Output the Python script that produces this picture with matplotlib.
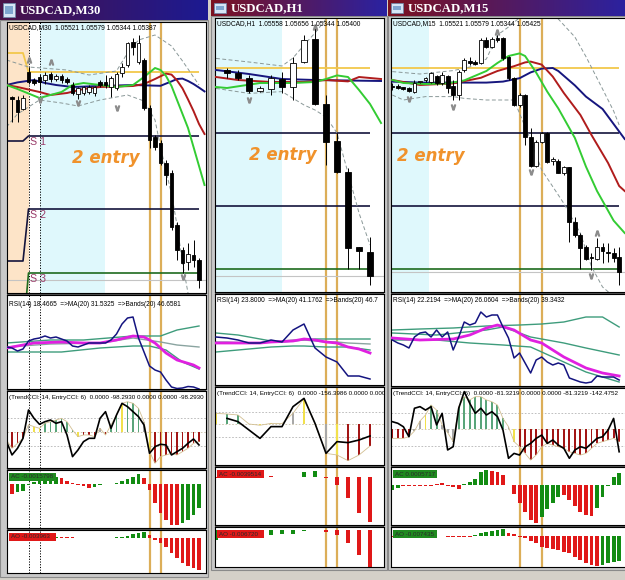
import numpy as np
import matplotlib
matplotlib.use("Agg")
import matplotlib.pyplot as plt
from matplotlib.patches import Rectangle
from matplotlib.colors import LinearSegmentedColormap

# ============================ DATA ============================
TITLES = ["USDCAD,M30", "USDCAD,H1", "USDCAD,M15"]
HEADERS = ["USDCAD,M30  1.05521 1.05579 1.05344 1.05387",
           "USDCAD,H1  1.05558 1.05656 1.05344 1.05400",
           "USDCAD,M15  1.05521 1.05579 1.05344 1.05425"]
RSI_LABELS = ["RSI(14) 18.4665  =>MA(20) 31.5325  =>Bands(20) 46.6581",
              "RSI(14) 23.8000  =>MA(20) 41.1762  =>Bands(20) 46.7",
              "RSI(14) 22.2194  =>MA(20) 26.0604  =>Bands(20) 39.3432"]
CCI_LABELS = ["(TrendCCI: 14, EntryCCI: 6)  0.0000 -98.2930 0.0000 0.0000 -98.2930",
              "(TrendCCI: 14, EntryCCI: 6)  0.0000 -156.3986 0.0000 0.0000",
              "(TrendCCI: 14, EntryCCI: 6)  0.0000 -81.3219 0.0000 0.0000 -81.3219 -142.4752"]
AC_LABELS = ["AC -0.0015798", "AC -0.0039514", "AC 0.0005717"]
AO_LABELS = ["AO -0.003963", "AO -0.006720", "AO -0.007435"]
ENTRY_TEXT = "2 entry"

# ---------------- window 1 : M30 (prices in pips above 1.0534) ----------------
W1_OPEN = [94, 92.5, 88, 106.5, 102.5, 104, 102.5, 105.5, 103, 104.5, 103, 100, 95.5, 96, 96.5, 96, 101.5, 101.5,
           99, 98.5, 106, 110, 121.5, 111.5, 112.5, 88.5, 74, 71, 61, 56, 30, 17.5, 11.5, 15, 12.5]
W1_HIGH = [94.5, 94.5, 95, 109, 103.5, 105.5, 106.5, 106.5, 105.5, 105.5, 104, 101.5, 99, 99.5, 100, 99.5, 102.5, 105,
           104.5, 106.5, 111, 121.5, 123.5, 125, 113.5, 90, 75, 72.5, 62.5, 57.5, 31.5, 19, 21, 22.5, 13.5]
W1_LOW = [81.5, 81.5, 87.5, 100.5, 100, 97.5, 100.5, 101.5, 102, 101, 100.5, 95, 93, 95, 95.5, 94.5, 99, 98.5,
          94, 97.5, 104, 109, 115, 110.5, 87.5, 68.5, 67.5, 60, 50, 27.5, 12.5, 6, 7.5, 9, -1.5]
W1_CLOSE = [93, 86.5, 93.5, 101.5, 101, 101.5, 105, 103, 104.5, 102.5, 101.5, 96, 98.5, 99, 99, 99, 100, 100,
            103.5, 105.5, 109, 121, 119, 121, 88.5, 72.5, 69, 61, 55, 29, 17.5, 11, 15.5, 12.5, 2.5]
W1_LIPS_X = [-1, 1, 5, 9, 11, 13, 16, 19, 22, 24, 26, 27, 28, 29, 30, 31, 32, 33, 34, 35]
W1_LIPS = [100, 98, 93.5, 96.5, 100, 101, 100, 99, 100, 104, 108.5, 107.5, 104.5, 99.5, 92.5, 85.5, 78.5, 69, 59.5, 50]
W1_TEETH_X = [-1, 1, 5, 7, 10, 13, 16, 22, 24, 26, 28, 29, 30, 31, 32, 33, 34, 35]
W1_TEETH = [100, 99, 96.5, 95, 96, 98, 99, 99.5, 100.5, 103, 105.7, 105.2, 102.3, 98.3, 92.8, 87, 80.5, 75.5]
W1_JAW_X = [-1, 1, 4, 6, 8, 11, 16, 22, 27, 29, 30, 31, 32, 33, 34, 35]
W1_JAW = [100, 101.3, 102.5, 101, 100, 99, 99.5, 100, 99.6, 101.8, 103, 103.2, 102, 100.5, 98.7, 96.8]
W1_BB_UP_X = [-1, 3, 10, 14, 19, 21, 23, 26, 29, 31, 34]
W1_BB_UP = [112.5, 109, 107.5, 105, 107, 116, 122.5, 125, 119.5, 112, 100]
W1_BB_LO_X = [-1, 1, 5, 9, 12, 16, 21, 24, 26, 27, 28, 29, 30, 31, 32]
W1_BB_LO = [79, 85.5, 92.5, 91, 89.5, 92.5, 95, 92, 82.5, 69, 57, 45.5, 30, 11, -4]
W1_LEVEL_X = list(range(-1, 35))
W1_DAY_START = 3
W1_PIVOT = (116, 106.5)
W1_S1 = (72, 74.5)
W1_S2 = (12, 38)
W1_S3 = (-25, 6)
W1_FRACT_UP_X, W1_FRACT_UP = [3, 7], [112.5, 111.5]
W1_FRACT_DN_X, W1_FRACT_DN = [5, 12, 19, 31], [92.5, 91, 88.5, 4]
W1_ENTRY_BARS = [25, 27]
W1_SEPARATORS = [3.1, 5.1]
W1_IND_X = list(range(-1, 35))
W1_RSI = [41, 40, 37, 39, 47, 49, 50, 52, 50, 51, 49, 47, 42, 41, 43, 45, 45, 45, 45, 48, 54, 64, 70, 71, 50, 36,
          22, 18, 16, 8, 1, -0.5, 0, 1.5, 1, -1]
W1_RSI_MA_X = [-1, 4, 9, 13, 16, 19, 22, 24, 26, 28, 30, 33, 34]
W1_RSI_MA = [40, 45, 46, 45, 45, 48, 52, 51, 45, 35, 28, 23, 20]
W1_RSI_UP_X, W1_RSI_UP = [-1, 7, 13, 22, 27, 30, 34], [45, 48, 48, 52, 52, 58, 62]
W1_RSI_MID_X, W1_RSI_MID = [-1, 7, 16, 22, 27, 30, 34], [41, 44, 45, 50, 46, 43, 41]
W1_RSI_LO_X, W1_RSI_LO = [-1, 9, 16, 22, 25, 28, 31, 34], [36, 36, 40, 42, 42, 38, 26, 19]
W1_TCCI = [-60, -120, -84, -48, 50, 36, 24, 60, 72, 84, 96, 72, 12, -36, -24, -24, -36, 24, -24, 48, 120, 204, 216,
           204, 168, 72, -144, -228, -180, -168, -156, -168, -144, -120, -84, -72]
W1_TCCI_COL = "rrrrkyyggggggyrrrkrggygggkyrrrrrrrrr"
W1_ECCI = [-72, -168, -120, -48, 156, 96, 53, 72, 84, 60, 72, -24, -180, -132, -72, -48, -48, 96, 144, 24, 120, 204,
           180, 144, 108, 48, -156, -108, -91, -96, -168, -144, -120, -84, -53, -96]
W1_AC = [-9, -10, -8, -7, -1, 2, 3, 4, 5, 7, 6, 3, 1, -1, -2, -4, -3, -1, 0.5, 0.5, 1, 3, 5, 7, 10, 6, -6, -19, -29,
         -36, -41, -41, -39, -36, -31, -24]
W1_AC_COL = "rr" + "gggggggg" + "rrrrrr" + "ggggggggg" + "rrrrrrr" + "gggg"
W1_AO = [-1, -0.5, 0.3, 0.6, 0.9, 1.2, 1.4, 1.5, 1.6, 1.7, 1.6, 1.4, 1, 0.7, 0.5, 0.4, 0.3, 0.4, 0.5, 0.6, 0.9, 1.5,
         2.5, 4, 5.5, 6.5, 3, -2, -5, -9, -15, -20, -25, -28, -30, -32]
W1_AO_COL = "r" + "ggggggggg" + "rrrrrrr" + "ggggggggg" + "rrrrrrrrrr"

# ---------------- window 2 : H1 ----------------
W2_OPEN = [107.5, 106, 103.5, 97, 98, 103, 99, 111.5, 123, 90.5, 72, 56.5, 19, 16.5]
W2_HIGH = [108.5, 107.5, 105, 99.5, 105, 106.5, 114, 125, 128.5, 95, 76, 58.5, 19, 24]
W2_LOW = [103.5, 102.5, 96, 96.5, 95, 96, 92.5, 111, 90, 60, 56, 8, 8, 0]
W2_CLOSE = [106, 103.5, 97, 98.5, 103.5, 99, 111, 122.5, 90.5, 71.5, 56.5, 18.5, 17, 4.5]
W2_LIPS_X = [-1, 0, 3, 6, 8, 9, 10, 11, 12, 13, 14]
W2_LIPS = [99, 98.5, 101, 101, 101.5, 103, 104.8, 104, 97.5, 90.5, 81]
W2_TEETH_X = [-1, 1, 4, 7, 9, 11, 12, 13, 14]
W2_TEETH = [104, 102.5, 101.5, 101.5, 102.5, 101.8, 104, 103.5, 103]
W2_JAW_X = [-1, 2, 5, 8, 14]
W2_JAW = [107.5, 105.5, 103, 102.5, 102]
W2_BB_UP_X = [-1, 2, 5, 6, 7, 8, 9, 10, 11, 12, 13]
W2_BB_UP = [113.3, 111.5, 109.5, 113.5, 120, 126, 133, 140, 150, 155, 158]
W2_BB_LO_X = [-1, 2, 5, 7, 8, 9, 10, 11, 12, 13]
W2_BB_LO = [98.3, 95.8, 96.7, 90, 87.5, 84, 76, 56, 36, 20]
W2_LEVEL_X = list(range(-1, 14))
W2_PIVOT, W2_S1, W2_S2, W2_S3 = 108.5, 76, 39.5, 8
W2_FRACT_UP_X, W2_FRACT_UP = [8], [129]
W2_FRACT_DN_X, W2_FRACT_DN = [2], [92.5]
W2_ENTRY_BARS = [9, 10]
W2_IND_X = list(range(-1, 14))
W2_RSI = [48, 47, 45, 42, 42, 45, 43, 55, 61, 37, 28, 23, 9, 9, 6]
W2_RSI_MA = [42, 42, 42, 42, 42, 43, 43.5, 44, 46, 45, 43, 42, 38, 36, 32]
W2_RSI_UP = [52, 51, 50, 48, 46, 44, 43, 44, 45, 46, 46, 46, 46, 46, 46]
W2_RSI_MID = [43, 43, 42.5, 42, 42, 43, 44, 45, 45, 44, 43, 43, 42, 41.5, 41]
W2_RSI_LO = [33, 34, 35, 36, 37, 38, 38.5, 39, 39, 38.5, 38, 38, 38, 36.5, 35]
W2_TCCI = [85, 80, 72, 0, -10, 5, 3, 85, 205, 0, -235, -248, -293, -248, -176]
W2_TCCI_COL = "yggkyykkykkyrrr"
W2_ECCI_X = list(range(0, 14))
W2_ECCI = [45, 19, -48, -115, -21, -21, 139, 205, 5, -235, -141, -149, -128, -96]
W2_AC = [-1, -0.5, 0.5, 1, 1.5, 1, 0.5, 0.3, 5, 6, -0.7, -8, -21, -36, -45]
W2_AC_COL = "rggggrrrggrrrrr"
W2_AO = [-10, -7, -5, -4.8, -4.6, -4.5, -4.3, -4, -1, 0.5, -1.5, -5, -13, -25, -37]
W2_AO_COL = "ggggggggggrrrrr"

# ---------------- window 3 : M15 ----------------
W3_OPEN = [99.5, 99.5, 98.3, 98.3, 96.7, 101.5, 102.5, 101.7, 104.5, 100.8, 104.5, 99.5, 95, 107.5, 112.2, 111.7,
           110.8, 122.5, 118.8, 123.3, 123.3, 113.8, 103.3, 90, 95, 74.2, 59.5, 71.7, 76.2, 62.2, 62.2, 55.8, 59.2,
           31.7, 25, 19.2, 14.2, 12.8, 19.2, 16.2, 16.2, 13.8]
W3_HIGH = [101, 100.5, 99, 99, 102.5, 102, 104, 106.7, 105, 106.7, 105, 102.5, 107.5, 113.3, 114.2, 112.5, 123.3,
           124.2, 124.2, 125, 124.2, 114.5, 104.2, 95.8, 95.5, 78.3, 72.5, 76.7, 76.7, 64.2, 62.8, 59.5, 59.2, 34.2,
           25.8, 20, 15.8, 23.3, 20.8, 20.8, 18.3, 18.8]
W3_LOW = [97.5, 98, 97.5, 96.5, 96.2, 101, 101.7, 100.8, 100, 100, 96, 92.5, 92.5, 106.7, 110, 110, 110.3, 118.3,
          118.3, 121.7, 112.5, 102.5, 89.5, 89.2, 70, 59.2, 59.2, 70.8, 60.8, 60, 55.8, 55, 21.7, 24.2, 7.8, 12.5,
          7.5, 12.5, 10.8, 11.7, 11.7, 0]
W3_CLOSE = [99, 98.5, 98.2, 97, 101, 101.8, 103.3, 105.8, 100.8, 105, 98.3, 95, 106.7, 112.5, 110.8, 110.3, 122.5,
            119.2, 122.8, 122.5, 113.3, 103.3, 90, 95, 74.2, 59.5, 71.7, 76.2, 61.7, 62.5, 56.2, 59.2, 31.7, 25,
            18.3, 12.8, 13.3, 19.2, 17.2, 15.8, 13.3, 6.7]
W3_LIPS_X = [0, 2, 6, 10, 13, 17, 19, 21, 23, 24, 26, 28, 30, 33, 35, 37, 40, 42]
W3_LIPS = [102.5, 101, 100.5, 100.8, 102.3, 107, 111, 114.5, 115.8, 114.5, 106.2, 96.7, 88.3, 73.5, 59.2, 47, 32.2, 26]
W3_TEETH_X = [0, 5, 11, 16, 19, 22, 24, 25, 27, 29, 31, 34, 36, 39, 41, 42]
W3_TEETH = [102.5, 100, 100.8, 103.6, 107, 109.4, 111.3, 111.7, 110.2, 104.2, 96, 85, 75, 61, 49.5, 47]
W3_JAW_X = [0, 5, 11, 17, 20, 23, 25, 27, 29, 30, 33, 35, 38, 40, 42]
W3_JAW = [101.7, 101.2, 101.2, 101.2, 101.7, 103.4, 106.3, 108.2, 108.5, 107, 99.8, 94.2, 88, 80.5, 73]
W3_BB_UP_X = [0, 5, 11, 14, 17, 19, 21, 24, 27, 30, 33, 35, 38, 40, 41]
W3_BB_UP = [106.7, 105.5, 107.2, 109, 113, 125, 129, 136, 139, 133, 124, 114.2, 98, 87, 80]
W3_BB_LO_X = [0, 2, 6, 11, 13, 17, 19, 22, 23, 25, 27, 29, 31, 34, 36, 38, 41]
W3_BB_LO = [95, 92.5, 94.2, 94.2, 93.3, 92.5, 92.5, 92.5, 85.8, 72.5, 57.5, 49.2, 40.8, 25.8, 9.2, -1, -8]
W3_LEVEL_X = list(range(0, 42))
W3_PIVOT, W3_S1, W3_S2, W3_S3 = 108.3, 76.2, 39.5, 7.8
W3_FRACT_UP_X, W3_FRACT_UP = [19, 37], [126.7, 25.8]
W3_FRACT_DN_X, W3_FRACT_DN = [3, 11, 25, 36], [92.8, 89.2, 56.7, 4.5]
W3_ENTRY_BARS = [23, 27]
W3_IND_X = list(range(0, 42))
W3_RSI = [45, 42, 40, 37, 48, 52, 53, 48, 55, 48, 53, 35, 48, 63, 60, 62, 73, 68, 70, 70, 58, 47, 27, 32, 22, 12,
          25, 28, 23, 20, 22, 20, 7, 5, 3, 2, 3, 9, 8, 8, 8, 5]
W3_RSI_MA_X = [0, 5, 11, 14, 17, 19, 22, 25, 27, 31, 35, 38, 41]
W3_RSI_MA = [47, 45, 46, 50, 57, 60, 55, 45, 42, 28, 17, 12, 9]
W3_RSI_UP_X, W3_RSI_UP = [0, 5, 11, 17, 23, 27, 31, 35, 38, 41], [55, 56, 57, 59, 60, 61, 63, 68, 68, 58]
W3_RSI_MID_X, W3_RSI_MID = [0, 8, 17, 20, 25, 31, 35, 41], [52, 50, 55, 58, 48, 42, 37, 30]
W3_RSI_LO_X, W3_RSI_LO = [0, 8, 14, 20, 25, 31, 35, 41], [45, 45, 42, 40, 38, 23, 13, 3]
W3_TCCI = [-55, -55, -55, -45, -10, 51, 88, 149, 118, 27, -20, -75, 139, 200, 180, 200, 200, 180, 169, 149, 67, 16,
           -75, -106, -147, -188, -157, -106, -86, -96, -106, -116, -137, -147, -157, -147, -116, -86, -75, -65,
           -55, -75]
W3_TCCI_COL = "rrrr" + "kk" + "y" + "gg" + "kkk" + "ggggggggg" + "k" + "y" + "r" * 19
W3_ECCI = [47, 37, 16, -45, 129, 139, 118, 139, 27, 98, -126, -106, 129, 231, 159, 98, 129, 88, 108, 78, -4, -177,
           -147, -157, -106, -86, -55, -35, -86, -65, -96, -116, -177, -126, -106, -116, -86, -55, -45, -4, 67, -137]
W3_AC = [-5, -3, -0.5, -0.5, -0.5, -0.5, -0.5, -0.5, 1, 2, -1, -2, -4, 1, 3, 6, 13, 15, 14, 13, 10, 0, -9, -18, -27,
         -35, -38, -32, -24, -18, -12, -10, -15, -21, -27, -30, -31, -23, -12, -1, 8, 12]
W3_AC_COL = "gg" + "r" * 11 + "ggggg" + "r" * 9 + "gggg" + "rrrrrr" + "ggggg"
W3_AO = [-1, -0.8, -0.6, -0.5, -0.4, -0.4, -0.3, -0.3, -0.3, -0.4, -0.5, -0.5, -0.6, -0.6, -0.5, 1, 3, 4, 5, 6, 7,
         3, 2, -1, -2, -5, -7, -11, -12, -13, -14, -16, -17, -21, -24, -27, -29, -30, -29, -27, -26, -25]
W3_AO_COL = "r" + "g" * 8 + "r" * 6 + "g" * 6 + "r" * 17 + "gggg"

# ============================ STYLE ============================
C_LIPS, C_TEETH, C_JAW = "#33cc33", "#b01c1c", "#16167e"
C_BAND = "#8a9898"
C_PIVOT = "#f2c84b"
C_ENTRY_V = "#dcae58"
C_LEVEL = "#14143c"
C_S3 = "#1e6b1e"
C_ORANGE = "#f0922b"
C_CYAN = "#dff8fc"
C_PEACH = "#fde4c8"
C_RSI, C_RSI_MA, C_RSI_BAND, C_RSI_MID = "#141480", "#e020e0", "#3e9c7c", "#8aa4a0"
CCI_COLORS = {"r": "#a31616", "g": "#5aa57a", "y": "#f2e14c", "k": "#a8a8a8"}
ACAO_COLORS = {"g": "#128c12", "r": "#e01818"}

W, H = 625, 580
fig = plt.figure(figsize=(W / 100, H / 100), dpi=100)
fig.patch.set_facecolor("#d4d0c8")

bg = fig.add_axes([0, 0, 1, 1])
bg.axis("off")


def px_axes(x0, y0, x1, y1):
    ax = fig.add_axes([x0 / W, 1 - y1 / H, (x1 - x0) / W, (y1 - y0) / H])
    ax.set_facecolor("white")
    ax.set_xticks([])
    ax.set_yticks([])
    for sp in ax.spines.values():
        sp.set_color("black")
        sp.set_linewidth(0.8)
    return ax


def put_text(ax, box, px, py, s, **kw):
    x0, y0, x1, y1 = box
    return ax.text((px - x0) / (x1 - x0), 1 - (py - y0) / (y1 - y0), s,
                   transform=ax.transAxes, clip_on=True, **kw)


def put_box(ax, box, px, py, w, h, color):
    x0, y0, x1, y1 = box
    ax.add_patch(Rectangle(((px - x0) / (x1 - x0), 1 - (py + h - y0) / (y1 - y0)),
                           w / (x1 - x0), h / (y1 - y0), transform=ax.transAxes,
                           facecolor=color, edgecolor="none", zorder=10, clip_on=True))


def title_bar(x0, x1, h, text, c0, c1):
    cmap = LinearSegmentedColormap.from_list("tb", [c0, c1])
    bg.imshow(np.linspace(0, 1, 256)[None, :], extent=(x0, x1, h, 0), cmap=cmap,
              aspect="auto", zorder=1, interpolation="bilinear")
    bg.add_patch(Rectangle((x0 + 3, 3), 12, h - 6, facecolor="#d6e6f6", edgecolor="#6a88aa", lw=0.5, zorder=2))
    bg.add_patch(Rectangle((x0 + 5, 6), 8, h - 12, facecolor="#7fa6d0", edgecolor="none", zorder=2))
    bg.text(x0 + 20, h / 2 + 0.5, text, color="white", fontsize=9.2, fontweight="bold",
            family="Liberation Serif", va="center", ha="left", zorder=3)


def candles(ax, o, h, l, c, width):
    k = np.arange(len(o))
    o = np.asarray(o, float)
    c = np.asarray(c, float)
    ax.vlines(k, l, h, color="black", lw=0.7, zorder=4)
    bot = np.minimum(o, c)
    ht = np.maximum(np.abs(c - o), 0.6)
    col = ["white" if cc > oo else "black" for oo, cc in zip(o, c)]
    ax.bar(k, ht, bottom=bot, width=width, color=col, edgecolor="black", lw=0.6, zorder=5)


def draw_window(g, d, idx):
    wx0, wx1 = g["win"]
    th = g["title_h"]
    x0, x1 = g["ax_x"]
    bg.add_patch(Rectangle((wx0, th), wx1 - wx0, g["bottom"] - th, facecolor="#c9c9c9",
                           edgecolor="#8a8a8a", lw=0.8, zorder=0))
    bg.add_patch(Rectangle((x0, g["main"][0]), x1 - x0, g["ao"][1] - g["main"][0],
                           facecolor="#555555", edgecolor="none", zorder=0.5))
    title_bar(wx0, wx1, th, TITLES[idx], g["c0"], g["c1"])

    axes = {}
    for name in ["main", "rsi", "cci", "ac", "ao"]:
        ya, yb = g[name]
        ax = px_axes(x0, ya, x1, yb)
        ax.set_xlim(*g["xlim"])
        ax.set_ylim(*g["ylim_" + name])
        axes[name] = (ax, (x0, ya, x1, yb))
        for eb in d["entry"]:
            ax.axvline(eb, color=C_ENTRY_V, lw=1.6, zorder=1.5)
        for sx in d.get("separators", []):
            ax.axvline(sx, color="black", lw=0.7, ls=(0, (1.2, 1.6)), zorder=1.6)

    # ---------- main chart ----------
    ax, box = axes["main"]
    for a, b, colr in d["shades"]:
        ax.axvspan(a, b, color=colr, lw=0, zorder=0)
    lx = np.asarray(d["level_x"])
    for vals, colr, lw in d["levels"]:
        ax.plot(lx, vals, color=colr, lw=lw, zorder=2, solid_capstyle="butt")
    ax.axhline(d["c"][-1], color="#c4c4c4", lw=0.8, zorder=1.8)
    for bx, by in d["bands"]:
        ax.plot(bx, by, color=C_BAND, lw=0.7, ls=(0, (4, 2.5)), zorder=2.2)
    for bx, by, colr in d["mas"]:
        ax.plot(bx, by, color=colr, lw=1.4, zorder=3)
    candles(ax, d["o"], d["h"], d["l"], d["c"], d["body_w"])
    ax.plot(d["fu"][0], d["fu"][1], ls="none", marker=r"$\wedge$", ms=3.6, color="#8c8c8c", zorder=6)
    ax.plot(d["fd"][0], d["fd"][1], ls="none", marker=r"$\vee$", ms=3.6, color="#8c8c8c", zorder=6)
    ax.text(d["entry_xy"][0], d["entry_xy"][1], ENTRY_TEXT, color=C_ORANGE, fontsize=12,
            fontweight="bold", fontstyle="italic", family="DejaVu Sans", ha="center", va="center", zorder=7)
    for s, yv in d.get("s_labels", []):
        ax.text(d["s_label_x"], yv, s, color="#9a3c6a", fontsize=7.7, family="Liberation Sans",
                ha="left", va="top", zorder=7)
    put_text(ax, box, x0 + 2, box[1] + 6, HEADERS[idx], fontsize=4.8, family="Liberation Sans",
             va="center", ha="left", zorder=8)

    # ---------- RSI ----------
    ax, box = axes["rsi"]
    for bx, by, colr, lw in d["rsi_bands"]:
        ax.plot(bx, by, color=colr, lw=lw, zorder=2)
    ax.plot(d["rsi_ma"][0], d["rsi_ma"][1], color=C_RSI_MA, lw=2.0, zorder=3)
    ax.plot(d["ind_x"], d["rsi"], color=C_RSI, lw=1.1, zorder=4)
    put_text(ax, box, x0 + 2, box[1] + d["rsi_lab_dy"], RSI_LABELS[idx], fontsize=4.7,
             family="Liberation Sans", va="center", ha="left", zorder=8)

    # ---------- Trend CCI ----------
    ax, box = axes["cci"]
    for lv in (100, -100):
        ax.axhline(lv, color="#b4b4b4", lw=0.6, ls=(0, (2, 2)), zorder=1)
    ax.axhline(0, color="#c8c0a8", lw=0.6, ls=(0, (2, 2)), zorder=1)
    ax.bar(d["ind_x"], d["tcci"], width=d["cci_w"], color=[CCI_COLORS[ch] for ch in d["tcci_col"]], zorder=2)
    ax.plot(d["ind_x"], d["tcci"], color="#d2bf92", lw=0.6, zorder=2.5)
    ax.plot(d["ecci_x"], d["ecci"], color="black", lw=1.2, zorder=3)
    put_text(ax, box, x0 + 2, box[1] + d["cci_lab_dy"], CCI_LABELS[idx], fontsize=4.5,
             family="Liberation Sans", va="center", ha="left", zorder=8)

    # ---------- AC / AO ----------
    for name, vals, cols, lab in (("ac", d["ac"], d["ac_col"], AC_LABELS[idx]),
                                  ("ao", d["ao"], d["ao_col"], AO_LABELS[idx])):
        ax, box = axes[name]
        ax.bar(d["ind_x"], vals, width=d["acao_w"], color=[ACAO_COLORS[ch] for ch in cols], zorder=2)
        put_box(ax, box, x0 + 2, box[1] + 3, d["lab_w"], 8, d["box_" + name])
        put_text(ax, box, x0 + 4, box[1] + 7, lab, fontsize=4.5, family="Liberation Sans",
                 color="#2a2a2a", va="center", ha="left", zorder=11)


def step_levels(xs, pair, start):
    return [pair[0] if x < start else pair[1] for x in xs]


GEOM = [
    dict(win=(0, 208), title_h=20, ax_x=(7, 206), main=(22, 293), rsi=(295, 389), cci=(391, 468),
         ac=(470, 528), ao=(530, 573), bottom=577, xlim=(-0.91, 35.27),
         ylim_main=(-4, 131.5), ylim_rsi=(-1, 93), ylim_cci=(-262, 293), ylim_ac=(-43.7, 14.3),
         ylim_ao=(-34.7, 8.3), c0="#4a1248", c1="#1c1a92"),
    dict(win=(211, 387), title_h=16, ax_x=(215, 384), main=(18, 292), rsi=(294, 385), cci=(387, 465),
         ac=(467, 525), ao=(527, 567), bottom=570, xlim=(-1.09, 14.27),
         ylim_main=(-3.5, 133.5), ylim_rsi=(0, 91), ylim_cci=(-328, 296), ylim_ac=(-47.7, 10.3),
         ylim_ao=(-37, 3), c0="#7c1220", c1="#2a22a2"),
    dict(win=(388, 630), title_h=16, ax_x=(391, 628), main=(18, 292), rsi=(294, 386), cci=(388, 465),
         ac=(467, 525), ao=(527, 567), bottom=570, xlim=(-0.24, 42.6),
         ylim_main=(-3.5, 133.5), ylim_rsi=(-1, 91), ylim_cci=(-218, 253), ylim_ac=(-40, 18),
         ylim_ao=(-31, 9), c0="#7c1220", c1="#2a22a2"),
]

D1 = dict(o=W1_OPEN, h=W1_HIGH, l=W1_LOW, c=W1_CLOSE, body_w=0.6,
          mas=[(W1_JAW_X, W1_JAW, C_JAW), (W1_TEETH_X, W1_TEETH, C_TEETH), (W1_LIPS_X, W1_LIPS, C_LIPS)],
          bands=[(W1_BB_UP_X, W1_BB_UP), (W1_BB_LO_X, W1_BB_LO)],
          level_x=W1_LEVEL_X,
          levels=[(step_levels(W1_LEVEL_X, W1_PIVOT, W1_DAY_START), C_PIVOT, 1.3),
                  (step_levels(W1_LEVEL_X, W1_S1, W1_DAY_START), C_LEVEL, 1.2),
                  (step_levels(W1_LEVEL_X, W1_S2, W1_DAY_START), C_LEVEL, 1.2),
                  (step_levels(W1_LEVEL_X, W1_S3, W1_DAY_START), C_S3, 1.2)],
          shades=[(-2, W1_SEPARATORS[0], C_PEACH), (W1_SEPARATORS[1], 16.9, C_CYAN)],
          separators=W1_SEPARATORS, entry=W1_ENTRY_BARS,
          fu=(W1_FRACT_UP_X, W1_FRACT_UP), fd=(W1_FRACT_DN_X, W1_FRACT_DN),
          entry_xy=(17.1, 63.5),
          s_labels=[("S 1", W1_S1[1] - 0.5), ("S 2", W1_S2[1] - 0.5), ("S 3", W1_S3[1] - 0.5)], s_label_x=3.2,
          ind_x=W1_IND_X, rsi=W1_RSI, rsi_ma=(W1_RSI_MA_X, W1_RSI_MA),
          rsi_bands=[(W1_RSI_UP_X, W1_RSI_UP, C_RSI_BAND, 1.0), (W1_RSI_MID_X, W1_RSI_MID, C_RSI_MID, 1.0),
                     (W1_RSI_LO_X, W1_RSI_LO, C_RSI_BAND, 1.0)],
          rsi_lab_dy=9, tcci=W1_TCCI, tcci_col=W1_TCCI_COL, ecci_x=W1_IND_X, ecci=W1_ECCI, cci_w=0.35,
          cci_lab_dy=7, ac=W1_AC, ac_col=W1_AC_COL, ao=W1_AO, ao_col=W1_AO_COL, acao_w=0.6,
          lab_w=47, box_ac="#1f8a1f", box_ao="#e01818")

D2 = dict(o=W2_OPEN, h=W2_HIGH, l=W2_LOW, c=W2_CLOSE, body_w=0.62,
          mas=[(W2_JAW_X, W2_JAW, C_JAW), (W2_TEETH_X, W2_TEETH, C_TEETH), (W2_LIPS_X, W2_LIPS, C_LIPS)],
          bands=[(W2_BB_UP_X, W2_BB_UP), (W2_BB_LO_X, W2_BB_LO)],
          level_x=W2_LEVEL_X,
          levels=[([W2_PIVOT] * len(W2_LEVEL_X), C_PIVOT, 1.3), ([W2_S1] * len(W2_LEVEL_X), C_LEVEL, 1.2),
                  ([W2_S2] * len(W2_LEVEL_X), C_LEVEL, 1.2), ([W2_S3] * len(W2_LEVEL_X), C_S3, 1.2)],
          shades=[(-2, 5, C_CYAN)], entry=W2_ENTRY_BARS,
          fu=(W2_FRACT_UP_X, W2_FRACT_UP), fd=(W2_FRACT_DN_X, W2_FRACT_DN),
          entry_xy=(5.1, 65),
          ind_x=W2_IND_X, rsi=W2_RSI, rsi_ma=(W2_IND_X, W2_RSI_MA),
          rsi_bands=[(W2_IND_X, W2_RSI_UP, C_RSI_BAND, 1.0), (W2_IND_X, W2_RSI_MID, C_RSI_MID, 1.0),
                     (W2_IND_X, W2_RSI_LO, C_RSI_BAND, 1.0)],
          rsi_lab_dy=6, tcci=W2_TCCI, tcci_col=W2_TCCI_COL, ecci_x=W2_ECCI_X, ecci=W2_ECCI, cci_w=0.18,
          cci_lab_dy=6, ac=W2_AC, ac_col=W2_AC_COL, ao=W2_AO, ao_col=W2_AO_COL, acao_w=0.38,
          lab_w=47, box_ac="#e01818", box_ao="#e01818")

D3 = dict(o=W3_OPEN, h=W3_HIGH, l=W3_LOW, c=W3_CLOSE, body_w=0.7,
          mas=[(W3_JAW_X, W3_JAW, C_JAW), (W3_TEETH_X, W3_TEETH, C_TEETH), (W3_LIPS_X, W3_LIPS, C_LIPS)],
          bands=[(W3_BB_UP_X, W3_BB_UP), (W3_BB_LO_X, W3_BB_LO)],
          level_x=W3_LEVEL_X,
          levels=[([W3_PIVOT] * len(W3_LEVEL_X), C_PIVOT, 1.3), ([W3_S1] * len(W3_LEVEL_X), C_LEVEL, 1.2),
                  ([W3_S2] * len(W3_LEVEL_X), C_LEVEL, 1.2), ([W3_S3] * len(W3_LEVEL_X), C_S3, 1.2)],
          shades=[(-2, 6.7, C_CYAN)], entry=W3_ENTRY_BARS,
          fu=(W3_FRACT_UP_X, W3_FRACT_UP), fd=(W3_FRACT_DN_X, W3_FRACT_DN),
          entry_xy=(7.0, 64.5),
          ind_x=W3_IND_X, rsi=W3_RSI, rsi_ma=(W3_RSI_MA_X, W3_RSI_MA),
          rsi_bands=[(W3_RSI_UP_X, W3_RSI_UP, C_RSI_BAND, 1.0), (W3_RSI_MID_X, W3_RSI_MID, C_RSI_BAND, 1.0),
                     (W3_RSI_LO_X, W3_RSI_LO, C_RSI_BAND, 1.0)],
          rsi_lab_dy=6, tcci=W3_TCCI, tcci_col=W3_TCCI_COL, ecci_x=W3_IND_X, ecci=W3_ECCI, cci_w=0.35,
          cci_lab_dy=5, ac=W3_AC, ac_col=W3_AC_COL, ao=W3_AO, ao_col=W3_AO_COL, acao_w=0.7,
          lab_w=44, box_ac="#1f8a1f", box_ao="#1f8a1f")

for i, (g, d) in enumerate(zip(GEOM, [D1, D2, D3])):
    draw_window(g, d, i)

bg.set_xlim(0, W)
bg.set_ylim(H, 0)

fig.savefig("out.png", dpi=100, facecolor=fig.get_facecolor())
